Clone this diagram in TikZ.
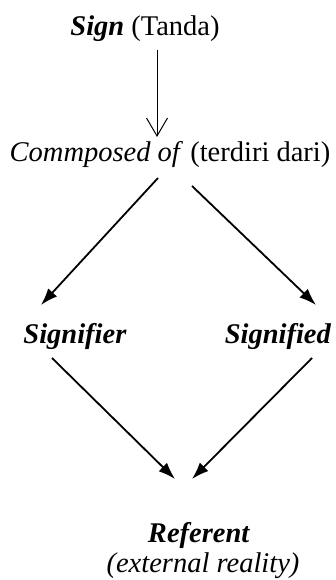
\documentclass[tikz,border=0pt]{standalone}
\usepackage{fontspec}
\setmainfont{Liberation Serif}
\usetikzlibrary{arrows.meta}
\begin{document}
\begin{tikzpicture}[x=1pt,y=-1pt,
  lbl/.style={inner sep=0pt,anchor=base,font=\fontsize{28.5}{34}\selectfont},
  thin arrow/.style={line width=1pt,-{Straight Barb[length=18pt,width=21pt,line width=1pt]}},
  thick arrow/.style={line width=1.8pt,-{Latex[length=17pt,width=12pt]}}]
\useasboundingbox (0,0) rectangle (336,580);
\node[lbl] (sign) at (145,36) {\textbf{\textit{Sign}} (Tanda)};
\node[lbl] (comp) at (170,161) {\textit{Commposed of} (terdiri dari)};
\node[lbl] (sfr) at (75,343) {\textbf{\textit{Signifier}}};
\node[lbl] (sfd) at (278,343) {\textbf{\textit{Signified}}};
\node[lbl] (ref) at (199,542) {\textbf{\textit{Referent}}};
\node[lbl] (ext) at (203,572) {\textit{(external reality)}};
\coordinate (a1s) at (157,50);
\coordinate (a1e) at (157,137);
\coordinate (a2s) at (158,178);
\coordinate (a2e) at (41,305);
\coordinate (a3s) at (192,186);
\coordinate (a3e) at (316,305);
\coordinate (a4s) at (52,358);
\coordinate (a4e) at (175,479);
\coordinate (a5s) at (312,358);
\coordinate (a5e) at (192,479);
\draw[thin arrow] (a1s) -- (a1e);
\draw[thick arrow] (a2s) -- (a2e);
\draw[thick arrow] (a3s) -- (a3e);
\draw[thick arrow] (a4s) -- (a4e);
\draw[thick arrow] (a5s) -- (a5e);
\end{tikzpicture}
\end{document}
